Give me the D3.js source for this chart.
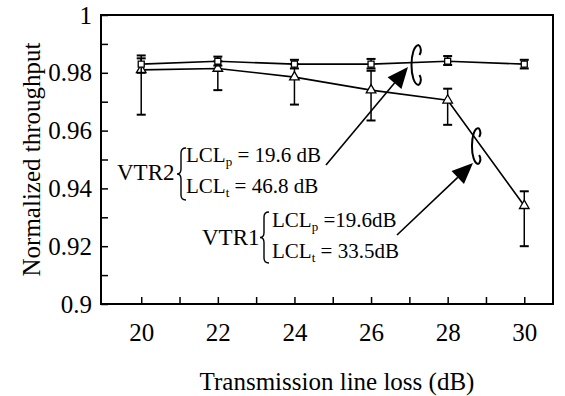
<!DOCTYPE html>
<html>
<head>
<meta charset="utf-8">
<script src="https://cdn.jsdelivr.net/npm/d3@7"></script>
<style>
  body { margin: 0; background: #fff; }
</style>
</head>
<body>
<svg id="chart"></svg>
<script>
// data
const lossDb = [20, 22, 24, 26, 28, 30];
const vtr2 = [0.983, 0.984, 0.983, 0.983, 0.984, 0.983];
const vtr2Lo = [0.980, 0.9825, 0.9815, 0.9815, 0.9827, 0.9815];
const vtr2Hi = [0.986, 0.9856, 0.9845, 0.9848, 0.9858, 0.9845];
const vtr1 = [0.981, 0.9815, 0.9785, 0.974, 0.9705, 0.934];
const vtr1Lo = [0.9655, 0.974, 0.969, 0.9635, 0.962, 0.920];
const vtr1Hi = [0.985, 0.984, 0.983, 0.9807, 0.9745, 0.939];
const xTicks = d3.range(20, 31, 1);
const yTicks = d3.range(0, 11).map(i => +(0.9 + i * 0.01).toFixed(2));

const FONT = "'Liberation Serif', 'Times New Roman', Times, serif";
const W = 565, H = 396;
const m = { left: 101, top: 15, right: 553, bottom: 304 };

const svg = d3.select("#chart").attr("width", W).attr("height", H)
    .attr("font-family", FONT);
svg.append("rect").attr("width", W).attr("height", H).attr("fill", "#fff");

const x = d3.scaleLinear().domain([18.95, 30.75]).range([m.left, m.right]);
const y = d3.scaleLinear().domain([0.9, 1]).range([m.bottom, m.top]);

// axes, ticks pointing inward
const xAxis = d3.axisBottom(x)
    .tickValues(xTicks)
    .tickSize(-7)
    .tickPadding(19)
    .tickFormat(d => d % 2 === 0 ? d : "");
const gx = svg.append("g").attr("transform", `translate(0,${m.bottom})`).call(xAxis);

const yAxis = d3.axisLeft(y)
    .tickValues(yTicks)
    .tickSize(-7)
    .tickPadding(9)
    .tickFormat(d => Math.round(d * 100) % 2 === 0 ? String(+d.toFixed(2)) : "");
const gy = svg.append("g").attr("transform", `translate(${m.left},0)`).call(yAxis);

[gx, gy].forEach(g => {
    g.attr("font-family", FONT).attr("font-size", 25);
    g.select(".domain").remove();
    g.selectAll(".tick line").attr("stroke", "#000").attr("stroke-width", 1.5);
    g.selectAll(".tick text").attr("fill", "#000");
});

svg.append("rect")
    .attr("x", m.left).attr("y", m.top)
    .attr("width", m.right - m.left).attr("height", m.bottom - m.top)
    .attr("fill", "none").attr("stroke", "#000").attr("stroke-width", 2);

// axis titles
svg.append("text")
    .attr("x", (m.left + m.right) / 2 + 10).attr("y", 390)
    .attr("text-anchor", "middle").attr("font-size", 25)
    .text("Transmission line loss (dB)");
svg.append("text")
    .attr("transform", `translate(40,${(m.top + m.bottom) / 2}) rotate(-90)`)
    .attr("text-anchor", "middle").attr("font-size", 25)
    .text("Normalized throughput");

// series
function drawSeries(vals, lo, hi, shape) {
    const g = svg.append("g");
    const line = d3.line().x((d, i) => x(lossDb[i])).y(d => y(d));
    g.append("path").datum(vals).attr("d", line)
        .attr("fill", "none").attr("stroke", "#000").attr("stroke-width", 1.6);

    lossDb.forEach((v, i) => {
        const cx = x(v);
        g.append("line").attr("x1", cx).attr("x2", cx)
            .attr("y1", y(lo[i])).attr("y2", y(hi[i]))
            .attr("stroke", "#000").attr("stroke-width", 1.5);
        [lo[i], hi[i]].forEach(e => {
            g.append("line").attr("x1", cx - 4.5).attr("x2", cx + 4.5)
                .attr("y1", y(e)).attr("y2", y(e))
                .attr("stroke", "#000").attr("stroke-width", 2);
        });
    });

    const sym = d3.symbol().type(shape).size(shape === d3.symbolTriangle ? 40 : 36);
    g.selectAll(".mk").data(vals).join("path")
        .attr("transform", (d, i) => `translate(${x(lossDb[i])},${y(d)})`)
        .attr("d", sym)
        .attr("fill", "#fff").attr("stroke", "#000").attr("stroke-width", 1.3);
}
drawSeries(vtr1, vtr1Lo, vtr1Hi, d3.symbolTriangle);
drawSeries(vtr2, vtr2Lo, vtr2Hi, d3.symbolSquare);

// annotations
function brace(x0, y0, y1) {
    const mid = (y0 + y1) / 2;
    const p = d3.path();
    p.moveTo(x0 + 8, y0);
    p.quadraticCurveTo(x0 + 3, y0, x0 + 3, y0 + 5);
    p.lineTo(x0 + 3, mid - 5);
    p.quadraticCurveTo(x0 + 3, mid, x0 - 1, mid);
    p.quadraticCurveTo(x0 + 3, mid, x0 + 3, mid + 5);
    p.lineTo(x0 + 3, y1 - 5);
    p.quadraticCurveTo(x0 + 3, y1, x0 + 8, y1);
    svg.append("path").attr("d", p.toString())
        .attr("fill", "none").attr("stroke", "#000").attr("stroke-width", 1.4);
}

function lclText(tx, ty, sub, rest) {
    const t = svg.append("text").attr("x", tx).attr("y", ty).attr("font-size", 21);
    t.append("tspan").text("LCL");
    t.append("tspan").attr("font-size", 13).attr("dy", 4).text(sub);
    t.append("tspan").attr("dy", -4).text(rest);
}

svg.append("text").attr("x", 117).attr("y", 180).attr("font-size", 23).text("VTR2");
brace(178, 148, 200);
lclText(186, 162, "p", " = 19.6 dB");
lclText(186, 193, "t", " = 46.8 dB");

svg.append("text").attr("x", 202).attr("y", 245).attr("font-size", 23).text("VTR1");
brace(261, 212, 263);
lclText(272, 227, "p", " =19.6dB");
lclText(272, 258, "t", " = 33.5dB");

// ring marks
function ring(cx, cy, rx, ry) {
    const p = d3.path();
    p.moveTo(cx + rx * 0.6, cy - ry);
    p.bezierCurveTo(cx - rx * 1.4, cy - ry, cx - rx * 1.4, cy + ry, cx + rx * 0.6, cy + ry);
    p.moveTo(cx + rx * 0.6, cy - ry);
    p.quadraticCurveTo(cx + rx * 1.3, cy - ry * 0.75, cx + rx * 0.7, cy - ry * 0.5);
    p.moveTo(cx + rx * 0.6, cy + ry);
    p.quadraticCurveTo(cx + rx * 1.3, cy + ry * 0.75, cx + rx * 0.7, cy + ry * 0.5);
    svg.append("path").attr("d", p.toString())
        .attr("fill", "none").attr("stroke", "#000").attr("stroke-width", 2);
}
ring(416, 65, 5, 20);
ring(476, 146, 4.5, 18);

function arrow(x0, y0, x1, y1) {
    const a = Math.atan2(y1 - y0, x1 - x0);
    const len = 21, hw = 9;
    const bx = x1 - len * Math.cos(a), by = y1 - len * Math.sin(a);
    svg.append("line").attr("x1", x0).attr("y1", y0).attr("x2", bx).attr("y2", by)
        .attr("stroke", "#000").attr("stroke-width", 1.6);
    svg.append("path")
        .attr("d", `M${x1},${y1}L${bx + hw * Math.sin(a)},${by - hw * Math.cos(a)}L${bx - hw * Math.sin(a)},${by + hw * Math.cos(a)}Z`)
        .attr("fill", "#000");
}
arrow(326, 165, 408, 67);
arrow(397, 235, 473, 163);
</script>
</body>
</html>
